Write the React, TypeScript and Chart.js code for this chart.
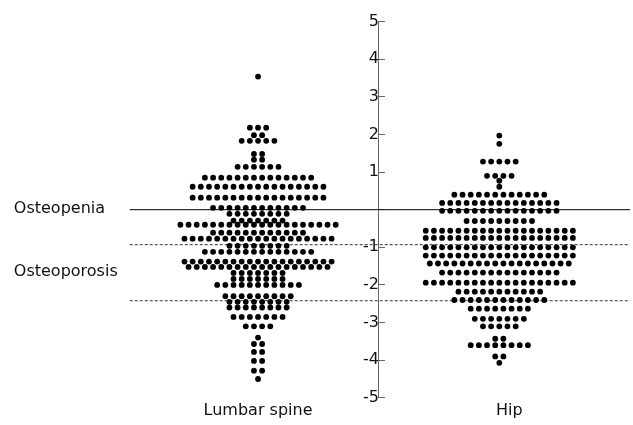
import React, { useEffect, useRef } from "react";
import { Chart, registerables } from "chart.js";

Chart.register(...registerables);

// ---- data ----
const CATEGORIES = ["Lumbar spine", "Hip"];

// T-score of each row of dots and number of dots in that row
const LUMBAR_ROW_VALUES = [
  3.54, 2.18, 1.98, 1.83, 1.48, 1.33, 1.14, 0.85, 0.61, 0.32, 0.05, -0.11, -0.29, -0.4,
  -0.61, -0.77, -0.96, -1.12, -1.38, -1.52, -1.68, -1.84, -2.0, -2.3, -2.45, -2.6,
  -2.85, -3.1, -3.4, -3.57, -3.78, -4.02, -4.28, -4.5,
];
const LUMBAR_ROW_COUNTS = [
  1, 3, 2, 5, 2, 2, 6, 14, 17, 17, 12, 8, 7, 20,
  12, 19, 8, 14, 19, 18, 7, 7, 11, 9, 8, 8,
  7, 4, 1, 2, 2, 2, 2, 1,
];

const HIP_ROW_VALUES = [
  1.97, 1.75, 1.28, 0.9, 0.77, 0.61, 0.4, 0.18, -0.03, -0.3, -0.56, -0.75, -1.0,
  -1.22, -1.43, -1.67, -1.94, -2.18, -2.4, -2.63, -2.9, -3.1, -3.43, -3.6, -3.9, -4.07,
];
const HIP_ROW_COUNTS = [
  1, 1, 5, 4, 1, 1, 12, 15, 15, 9, 19, 19, 19,
  19, 18, 15, 19, 11, 12, 8, 7, 5, 2, 8, 2, 1,
];

const SOLID_THRESHOLD = 0;
const DOTTED_THRESHOLDS = [-0.93, -2.42];

const ZONE_LABELS = ["Osteopenia", "Osteoporosis"];
const ZONE_LABEL_VALUES = [-0.09, -1.75];

const Y_MIN = -5;
const Y_MAX = 5;

// ---- layout (not data) ----
const W = 633;
const H = 425;
const GROUP_X = [257.5, 501];
const LABEL_X = [257.5, 511];
const AXIS_X = 379.5;
const DOT_GAP = 8.25;
const LINE_START = 128;
const LINE_END = 633;
const FONT = { family: "'DejaVu Sans', Verdana, sans-serif", size: 16 };

function swarm(values: number[], counts: number[], cx: number) {
  const pts: { x: number; y: number }[] = [];
  values.forEach((v, i) => {
    const n = counts[i];
    for (let k = 0; k < n; k++) {
      pts.push({ x: cx + (k - (n - 1) / 2) * DOT_GAP, y: v });
    }
  });
  return pts;
}

const zoneLabelPlugin = {
  id: "zoneLabels",
  afterDraw(chart: any) {
    const { ctx, scales } = chart;
    ctx.save();
    ctx.font = `16px ${FONT.family}`;
    ctx.fillStyle = "#111";
    ctx.textAlign = "left";
    ctx.textBaseline = "alphabetic";
    ZONE_LABELS.forEach((t, i) => {
      ctx.fillText(t, scales.x.getPixelForValue(11), scales.y.getPixelForValue(ZONE_LABEL_VALUES[i]));
    });
    ctx.restore();
  },
};

export default function App() {
  const ref = useRef<HTMLCanvasElement | null>(null);

  useEffect(() => {
    if (!ref.current) return;
    const dotStyle = {
      pointRadius: 2.9,
      pointBackgroundColor: "#000",
      pointBorderWidth: 0,
      pointHoverRadius: 2.9,
      showLine: false,
    };
    const lineStyle = (dashed: boolean) => ({
      showLine: true,
      pointRadius: 0,
      borderColor: dashed ? "#333" : "#000",
      borderWidth: 1,
      borderDash: dashed ? [3, 2] : [],
      fill: false,
    });
    const chart = new Chart(ref.current, {
      type: "scatter",
      data: {
        datasets: [
          { label: CATEGORIES[0], data: swarm(LUMBAR_ROW_VALUES, LUMBAR_ROW_COUNTS, GROUP_X[0]), ...dotStyle },
          { label: CATEGORIES[1], data: swarm(HIP_ROW_VALUES, HIP_ROW_COUNTS, GROUP_X[1]), ...dotStyle },
          {
            label: "solid",
            data: [
              { x: LINE_START, y: SOLID_THRESHOLD },
              { x: LINE_END, y: SOLID_THRESHOLD },
            ],
            ...lineStyle(false),
          },
          ...DOTTED_THRESHOLDS.map((t) => ({
            label: "dotted",
            data: [
              { x: LINE_START, y: t },
              { x: LINE_END, y: t },
            ],
            ...lineStyle(true),
          })),
        ] as any,
      },
      options: {
        animation: false,
        responsive: false,
        devicePixelRatio: 1,
        layout: { padding: { top: 21, bottom: 2, left: 0, right: 0 } },
        plugins: { legend: { display: false }, tooltip: { enabled: false } },
        events: [],
        scales: {
          x: {
            type: "linear",
            min: 0,
            max: W,
            afterBuildTicks: (s: any) => {
              s.ticks = LABEL_X.map((v) => ({ value: v }));
            },
            ticks: {
              autoSkip: false,
              maxRotation: 0,
              padding: 3,
              font: FONT,
              color: "#111",
              callback: (_v: any, i: number) => CATEGORIES[i] ?? "",
            },
            grid: { display: false, drawTicks: false },
            border: { display: false },
          },
          y: {
            type: "linear",
            min: Y_MIN,
            max: Y_MAX,
            position: { x: AXIS_X } as any,
            ticks: {
              stepSize: 1,
              padding: 12,
              font: FONT,
              color: "#111",
              callback: (v: any) => (Number(v) === 0 ? "" : String(v)),
            },
            grid: {
              display: true,
              drawOnChartArea: false,
              drawTicks: true,
              tickLength: -7,
              color: "#666",
              lineWidth: 1,
            },
            border: { display: true, color: "#666", width: 1 },
          },
        },
      } as any,
      plugins: [zoneLabelPlugin],
    });
    return () => chart.destroy();
  }, []);

  return (
    <div style={{ position: "fixed", left: 0, top: 0, width: W, height: H, background: "#fff" }}>
      <canvas ref={ref} width={W} height={H} style={{ display: "block", width: W, height: H }} />
    </div>
  );
}
